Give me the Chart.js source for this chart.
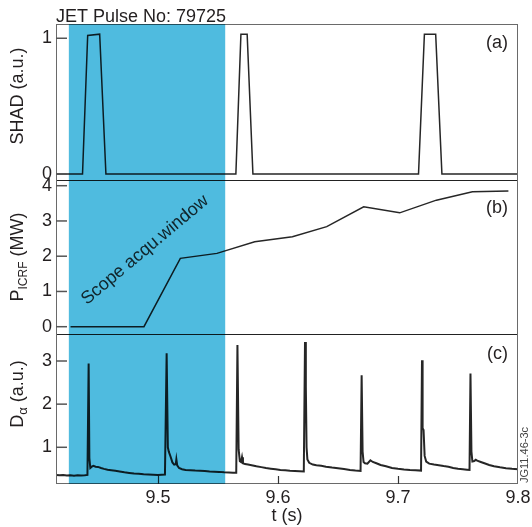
<!DOCTYPE html>
<html><head><meta charset="utf-8">
<script src="https://cdn.jsdelivr.net/npm/chart.js@4.4.1/dist/chart.umd.min.js"></script>
<style>html,body{margin:0;padding:0;background:#fff;}canvas{display:block;}</style>
</head><body>
<canvas id="c" width="532" height="527"></canvas>
<script>
// ---- tick labels ----
const xTicks = [9.5, 9.6, 9.7, 9.8];
const shadTicks = [0, 1];
const picrfTicks = [0, 1, 2, 3, 4];
const dalphaTicks = [1, 2, 3];
const xInnerTicks = [9.5, 9.6, 9.7];

// ---- scope acquisition window (s) ----
const scopeWindow = [9.4257, 9.556];

// ---- (a) SHAD ----
const shadT = [9.415, 9.4371, 9.4414, 9.4514, 9.4566, 9.5649, 9.5691, 9.5743, 9.5791, 9.7171, 9.722, 9.7314, 9.7366, 9.8];
const shadV = [0, 0, 1.02, 1.03, 0, 0, 1.03, 1.03, 0, 0, 1.03, 1.03, 0, 0];

// ---- (b) P_ICRF (MW) ----
const picrfT = [9.4271, 9.4883, 9.5186, 9.5491, 9.5806, 9.612, 9.6406, 9.6714, 9.7014, 9.732, 9.762, 9.792];
const picrfV = [0, 0, 1.94, 2.08, 2.41, 2.55, 2.84, 3.40, 3.23, 3.59, 3.83, 3.85];

// ---- (c) D-alpha (a.u.) ----
const dalphaT = [
  9.415, 9.418, 9.421, 9.424, 9.427, 9.430, 9.433, 9.436, 9.439, 9.4412,
  9.4422, 9.4428, 9.4436, 9.4448, 9.4462, 9.448, 9.450, 9.4525, 9.455, 9.458,
  9.461, 9.4645, 9.468, 9.472, 9.476, 9.480, 9.484, 9.488, 9.492, 9.496,
  9.500, 9.503, 9.5058,
  9.5072, 9.5082, 9.509, 9.5105, 9.512, 9.5135, 9.5148, 9.5153, 9.5160, 9.5175,
  9.520, 9.523, 9.527, 9.531, 9.535, 9.539, 9.543, 9.547, 9.551, 9.555,
  9.559, 9.5625, 9.5652,
  9.5662, 9.5672, 9.5682, 9.5692, 9.5700, 9.5708, 9.5725, 9.575, 9.578, 9.582,
  9.586, 9.590, 9.594, 9.598, 9.602, 9.606, 9.610, 9.614, 9.618, 9.6215,
  9.6225, 9.6232, 9.6238, 9.6245, 9.626, 9.629, 9.632, 9.636, 9.640, 9.645,
  9.650, 9.655, 9.660, 9.6645, 9.6688,
  9.6697, 9.6705, 9.6713, 9.6725, 9.6745, 9.677, 9.679, 9.682, 9.6855, 9.690,
  9.695, 9.700, 9.705, 9.710, 9.7145, 9.7192,
  9.7200, 9.7205, 9.7213, 9.7222, 9.7235, 9.726, 9.730, 9.734, 9.738, 9.742,
  9.746, 9.750, 9.754, 9.7575, 9.7596,
  9.7604, 9.7612, 9.762, 9.7635, 9.7648, 9.766, 9.769, 9.772, 9.776, 9.780,
  9.785, 9.790, 9.795, 9.800
];
const dalphaV = [
  0.36, 0.35, 0.355, 0.345, 0.35, 0.34, 0.35, 0.345, 0.35, 0.36,
  2.94, 0.75, 0.52, 0.55, 0.57, 0.55, 0.545, 0.52, 0.50, 0.48,
  0.47, 0.455, 0.44, 0.42, 0.405, 0.39, 0.385, 0.375, 0.37, 0.365,
  0.36, 0.365, 0.37,
  3.18, 1.0, 0.9, 0.78, 0.65, 0.60, 0.61, 0.72, 0.58, 0.52,
  0.49, 0.475, 0.47, 0.46, 0.455, 0.45, 0.44, 0.435, 0.43, 0.42,
  0.415, 0.41, 0.41,
  3.37, 0.95, 0.68, 0.66, 0.77, 0.63, 0.61, 0.60, 0.585, 0.56,
  0.54, 0.52, 0.505, 0.49, 0.475, 0.465, 0.455, 0.45, 0.445, 0.44,
  3.44, 2.4, 1.0, 0.72, 0.64, 0.60, 0.585, 0.57, 0.55, 0.53,
  0.515, 0.495, 0.475, 0.46, 0.45,
  2.67, 0.9, 0.66, 0.63, 0.62, 0.70, 0.66, 0.63, 0.59, 0.56,
  0.52, 0.50, 0.485, 0.475, 0.47, 0.46,
  3.02, 1.44, 1.40, 0.80, 0.67, 0.62, 0.60, 0.585, 0.565, 0.55,
  0.52, 0.50, 0.49, 0.48, 0.475,
  2.71, 0.9, 0.67, 0.68, 0.71, 0.69, 0.66, 0.63, 0.59, 0.56,
  0.535, 0.515, 0.50, 0.49
];

const FONT = '"Liberation Sans", Arial, Helvetica, sans-serif';
const INK = '#231f20';
const pts = (t, v) => t.map((x, i) => ({x: x, y: v[i]}));
const fixTicks = arr => scale => { scale.ticks = arr.map(v => ({value: v})); };

function yAxis(min, max, ticks, weight, stackWeight) {
  return {
    type: 'linear', position: 'left', stack: 'panels', stackWeight: stackWeight, weight: weight,
    min: min, max: max,
    grid: {display: false, drawTicks: false}, border: {display: false},
    ticks: {font: {family: FONT, size: 18}, color: INK, padding: 4, autoSkip: false, callback: v => String(v)},
    afterBuildTicks: fixTicks(ticks),
    afterFit: s => { s.width = 56; s.paddingTop = 0; s.paddingBottom = 0; }
  };
}

function rotTitle(ctx, cx, cy, parts) {
  ctx.save();
  ctx.translate(cx, cy);
  ctx.rotate(-Math.PI / 2);
  ctx.textAlign = 'left';
  ctx.textBaseline = 'alphabetic';
  ctx.fillStyle = INK;
  let total = 0;
  parts.forEach(p => { ctx.font = p.size + 'px ' + FONT; p.w = ctx.measureText(p.t).width; total += p.w; });
  let x = -total / 2;
  parts.forEach(p => { ctx.font = p.size + 'px ' + FONT; ctx.fillText(p.t, x, p.dy || 0); x += p.w; });
  ctx.restore();
}

const deco = {
  id: 'deco',
  beforeDraw(chart) {
    const ctx = chart.ctx;
    ctx.save(); ctx.fillStyle = '#fff'; ctx.fillRect(0, 0, chart.width, chart.height); ctx.restore();
  },
  afterDatasetsDraw(chart) {
    const ctx = chart.ctx, ca = chart.chartArea, s = chart.scales;
    ctx.save();
    ctx.strokeStyle = '#222'; ctx.lineWidth = 1;
    [s.ya.bottom, s.yb.bottom].forEach(y => {
      const yy = Math.round(y) + 0.5;
      ctx.beginPath(); ctx.moveTo(ca.left, yy); ctx.lineTo(ca.right, yy); ctx.stroke();
    });
    ctx.strokeStyle = '#6a6a6a';
    ctx.strokeRect(Math.round(ca.left) + 0.5, Math.round(ca.top) + 0.5, Math.round(ca.right - ca.left) - 1, Math.round(ca.bottom - ca.top) - 1);
    ctx.strokeStyle = '#555'; ctx.lineWidth = 1.5;
    [[s.ya, shadTicks], [s.yb, picrfTicks], [s.yc, dalphaTicks]].forEach(([sc, tk]) => {
      tk.forEach(v => {
        const y = sc.getPixelForValue(v);
        ctx.beginPath(); ctx.moveTo(ca.left, y); ctx.lineTo(ca.left + 11, y); ctx.stroke();
      });
    });
    ctx.strokeStyle = '#333'; ctx.lineWidth = 1.2;
    xInnerTicks.forEach(v => {
      const x = Math.round(s.x.getPixelForValue(v)) + 0.5;
      ctx.beginPath(); ctx.moveTo(x, ca.bottom); ctx.lineTo(x, ca.bottom - 8); ctx.stroke();
    });
    ctx.fillStyle = INK;
    ctx.font = '18px ' + FONT;
    ctx.textAlign = 'left'; ctx.textBaseline = 'alphabetic';
    ctx.fillText('JET Pulse No: 79725', ca.left, 22);
    ctx.textAlign = 'right'; ctx.textBaseline = 'middle';
    ctx.fillText('(a)', ca.right - 10, s.ya.top + 19);
    ctx.fillText('(b)', ca.right - 10, s.yb.top + 28);
    ctx.fillText('(c)', ca.right - 10, s.yc.top + 20);
    ctx.textAlign = 'center'; ctx.textBaseline = 'alphabetic';
    ctx.fillText('t (s)', (ca.left + ca.right) / 2, 521);
    rotTitle(ctx, 23, 96, [{t: 'SHAD (a.u.)', size: 18}]);
    rotTitle(ctx, 23, 257, [{t: 'P', size: 18}, {t: 'ICRF', size: 12, dy: 4}, {t: ' (MW)', size: 18}]);
    rotTitle(ctx, 23, 394, [{t: 'D', size: 18}, {t: 'α', size: 13, dy: 4}, {t: ' (a.u.)', size: 18}]);
    const mx = s.x.getPixelForValue((scopeWindow[0] + scopeWindow[1]) / 2);
    ctx.save();
    ctx.translate(mx - 2, 250);
    ctx.rotate(-40 * Math.PI / 180);
    ctx.textAlign = 'center'; ctx.textBaseline = 'middle';
    ctx.font = '18px ' + FONT;
    ctx.fillStyle = '#333';
    ctx.fillText('Scope acqu.window', 0, 0);
    ctx.restore();
    ctx.save();
    ctx.translate(525, 455);
    ctx.rotate(-Math.PI / 2);
    ctx.textAlign = 'center'; ctx.textBaseline = 'middle';
    ctx.font = '11px ' + FONT;
    ctx.fillStyle = '#444';
    ctx.fillText('JG11.46-3c', 0, 0);
    ctx.restore();
    ctx.restore();
  },
  afterDraw(chart) {
    const ctx = chart.ctx, ca = chart.chartArea, x = chart.scales.x;
    const x0 = x.getPixelForValue(scopeWindow[0]), x1 = x.getPixelForValue(scopeWindow[1]);
    ctx.save();
    ctx.globalCompositeOperation = 'multiply';
    ctx.fillStyle = 'rgb(79,187,223)';
    ctx.fillRect(x0, ca.top, x1 - x0, ca.bottom - ca.top);
    ctx.restore();
  }
};

const lineDs = (data, axis, w) => ({
  data: data, yAxisID: axis, borderColor: '#262626', borderWidth: w,
  pointRadius: 0, tension: 0, fill: false
});

new Chart(document.getElementById('c'), {
  type: 'line',
  data: {
    datasets: [
      lineDs(pts(shadT, shadV), 'ya', 1.5),
      lineDs(pts(picrfT, picrfV), 'yb', 1.5),
      lineDs(pts(dalphaT, dalphaV), 'yc', 2)
    ]
  },
  options: {
    responsive: false, animation: false, devicePixelRatio: 1,
    layout: {padding: {top: 24, right: 14, left: 0, bottom: 0}},
    plugins: {legend: {display: false}, tooltip: {enabled: false}},
    scales: {
      x: {
        type: 'linear', position: 'bottom', min: 9.415, max: 9.8,
        grid: {display: false, drawTicks: false}, border: {display: false},
        ticks: {font: {family: FONT, size: 18}, color: INK, padding: 3, maxRotation: 0, autoSkip: false,
                callback: v => Number(v).toFixed(1)},
        afterBuildTicks: fixTicks(xTicks),
        afterFit: s => { s.height = 43; s.paddingLeft = 0; s.paddingRight = 0; }
      },
      ya: yAxis(-0.044, 1.105, shadTicks, 3, 156),
      yb: yAxis(-0.207, 4.162, picrfTicks, 2, 154),
      yc: yAxis(0.149, 3.626, dalphaTicks, 1, 150)
    }
  },
  plugins: [deco]
});
</script>
</body></html>
